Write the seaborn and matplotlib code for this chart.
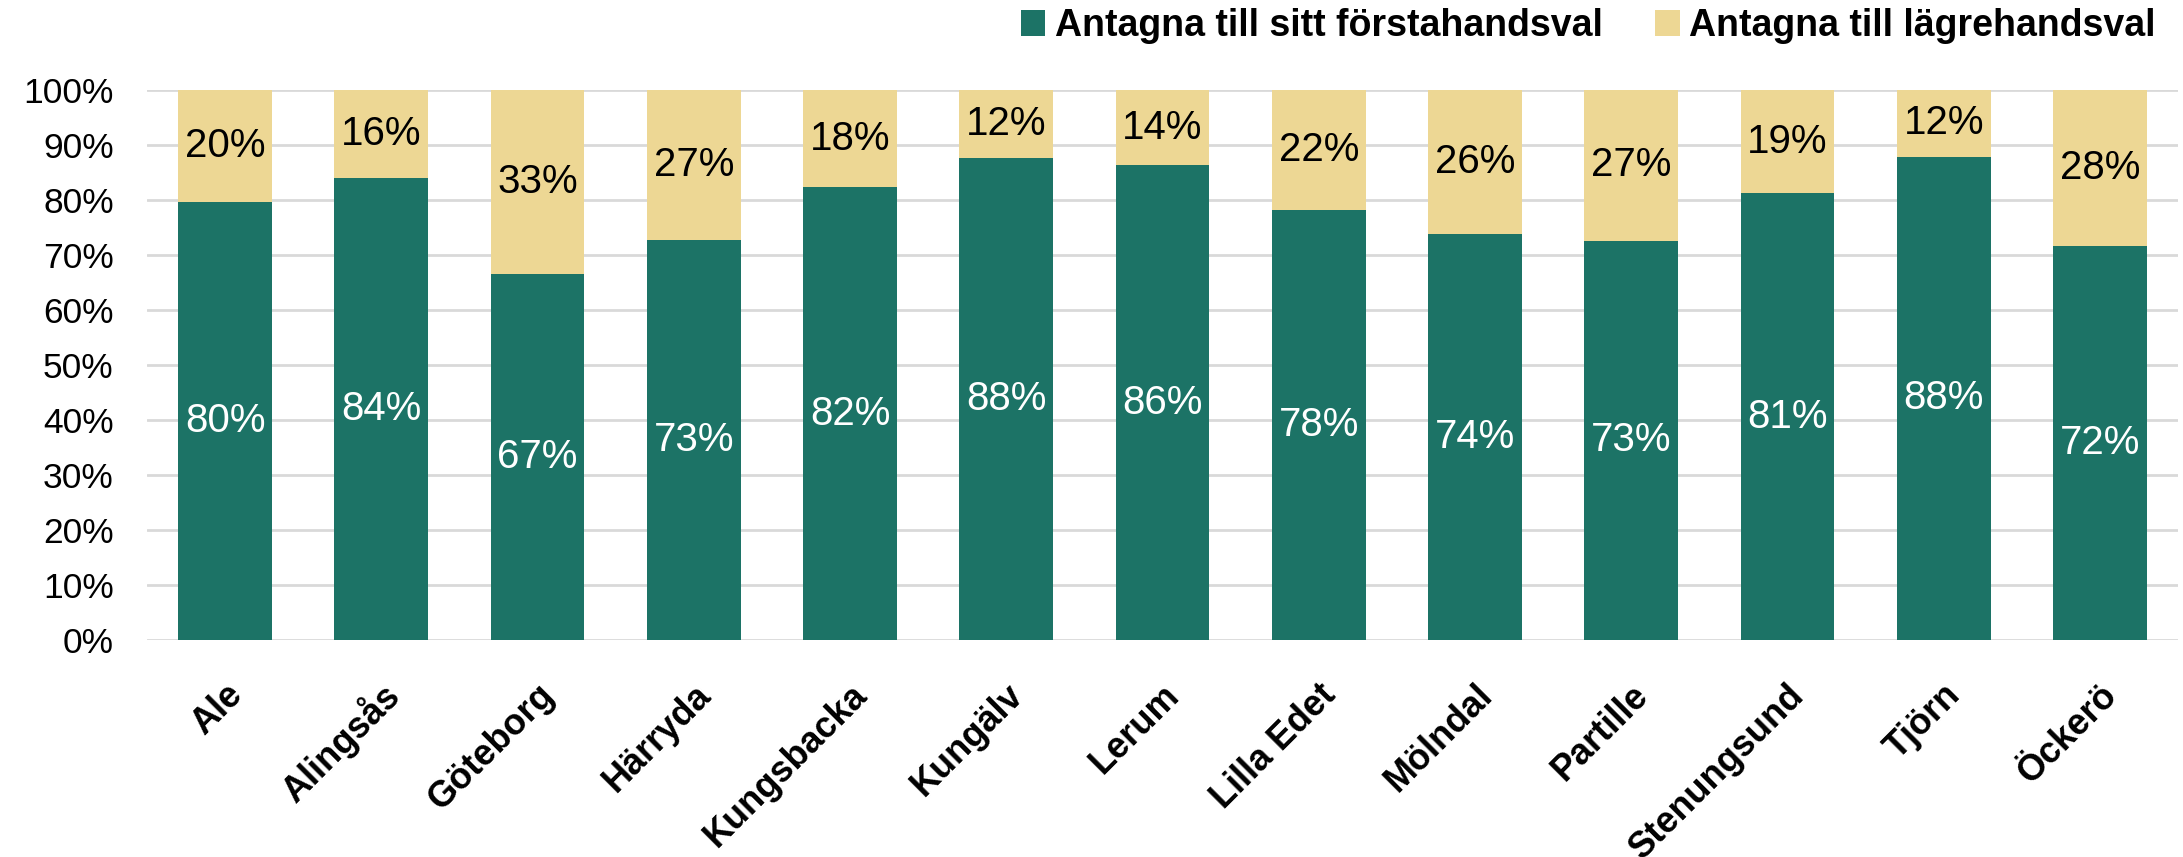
import matplotlib
matplotlib.use("Agg")
import matplotlib.pyplot as plt
import matplotlib.transforms as mtransforms
from matplotlib.patches import Patch
import seaborn as sns
import pandas as pd
import numpy as np

categories = ["Ale", "Alingsås", "Göteborg", "Härryda", "Kungsbacka", "Kungälv",
              "Lerum", "Lilla Edet", "Mölndal", "Partille", "Stenungsund", "Tjörn", "Öckerö"]
first_choice = [79.6, 84.0, 66.6, 72.7, 82.3, 87.6, 86.3, 78.2, 73.9, 72.6, 81.2, 87.9, 71.6]
lower_choice = [20.4, 16.0, 33.4, 27.3, 17.7, 12.4, 13.7, 21.8, 26.1, 27.4, 18.8, 12.1, 28.4]
series_names = ["Antagna till sitt förstahandsval", "Antagna till lägrehandsval"]
yticks = [0, 10, 20, 30, 40, 50, 60, 70, 80, 90, 100]

GREEN = "#1C7366"
YELLOW = "#EDD794"

sns.set_theme(style="white")
plt.rcParams["font.family"] = ["Liberation Sans", "DejaVu Sans"]
plt.rcParams["text.color"] = "black"
plt.rcParams["xtick.color"] = "black"
plt.rcParams["ytick.color"] = "black"
plt.rcParams["axes.labelcolor"] = "black"

df = pd.DataFrame({"kommun": categories, "first": first_choice, "lower": lower_choice})
df["total"] = df["first"] + df["lower"]

fig = plt.figure(figsize=(21.83, 8.57), dpi=100)
ax = fig.add_axes([147 / 2183, 1 - 640 / 857, (2178 - 147) / 2183, (640 - 90) / 857])

sns.barplot(data=df, x="kommun", y="total", color=YELLOW, width=0.6, ax=ax,
            saturation=1, edgecolor="none", zorder=2)
sns.barplot(data=df, x="kommun", y="first", color=GREEN, width=0.6, ax=ax,
            saturation=1, edgecolor="none", zorder=3)

for i, (g, y) in enumerate(zip(first_choice, lower_choice)):
    ax.text(i, g / 2, f"{round(g):d}%", ha="center", va="center", color="white",
            fontsize=29, zorder=5)
    ax.text(i, g + y / 2, f"{round(y):d}%", ha="center", va="center", color="black",
            fontsize=29, zorder=5)

ax.set_xlim(-0.5, len(categories) - 0.5)
ax.set_ylim(0, 100)
ax.set_yticks(yticks)
ax.set_yticklabels([f"{t}%" for t in yticks], fontsize=25.5, color="black")
ax.yaxis.grid(True, color="#D9D9D9", linewidth=2, zorder=0)
ax.set_axisbelow(True)
for s in ax.spines.values():
    s.set_visible(False)
ax.tick_params(axis="y", length=0, pad=24, labelcolor="black")
ax.tick_params(axis="x", length=0, pad=36, labelcolor="black")
ax.set_xlabel("")
ax.set_ylabel("")

offset = mtransforms.ScaledTranslation(12 / 100, 0, fig.dpi_scale_trans)
for lab in ax.get_xticklabels():
    lab.set_rotation(45)
    lab.set_ha("right")
    lab.set_va("center")
    lab.set_rotation_mode("anchor")
    lab.set_fontsize(26)
    lab.set_fontweight("bold")
    lab.set_color("black")
    lab.set_transform(lab.get_transform() + offset)

handles = [Patch(facecolor=GREEN, edgecolor="none"), Patch(facecolor=YELLOW, edgecolor="none")]
leg = fig.legend(handles, series_names, loc="upper right", bbox_to_anchor=(1.003, 1.03),
                 ncol=2, frameon=False, prop={"size": 27, "weight": "bold"},
                 handlelength=0.66, handleheight=0.66, handletextpad=0.25, columnspacing=1.4,
                 labelcolor="black")

fig.savefig("out.png", dpi=100)
